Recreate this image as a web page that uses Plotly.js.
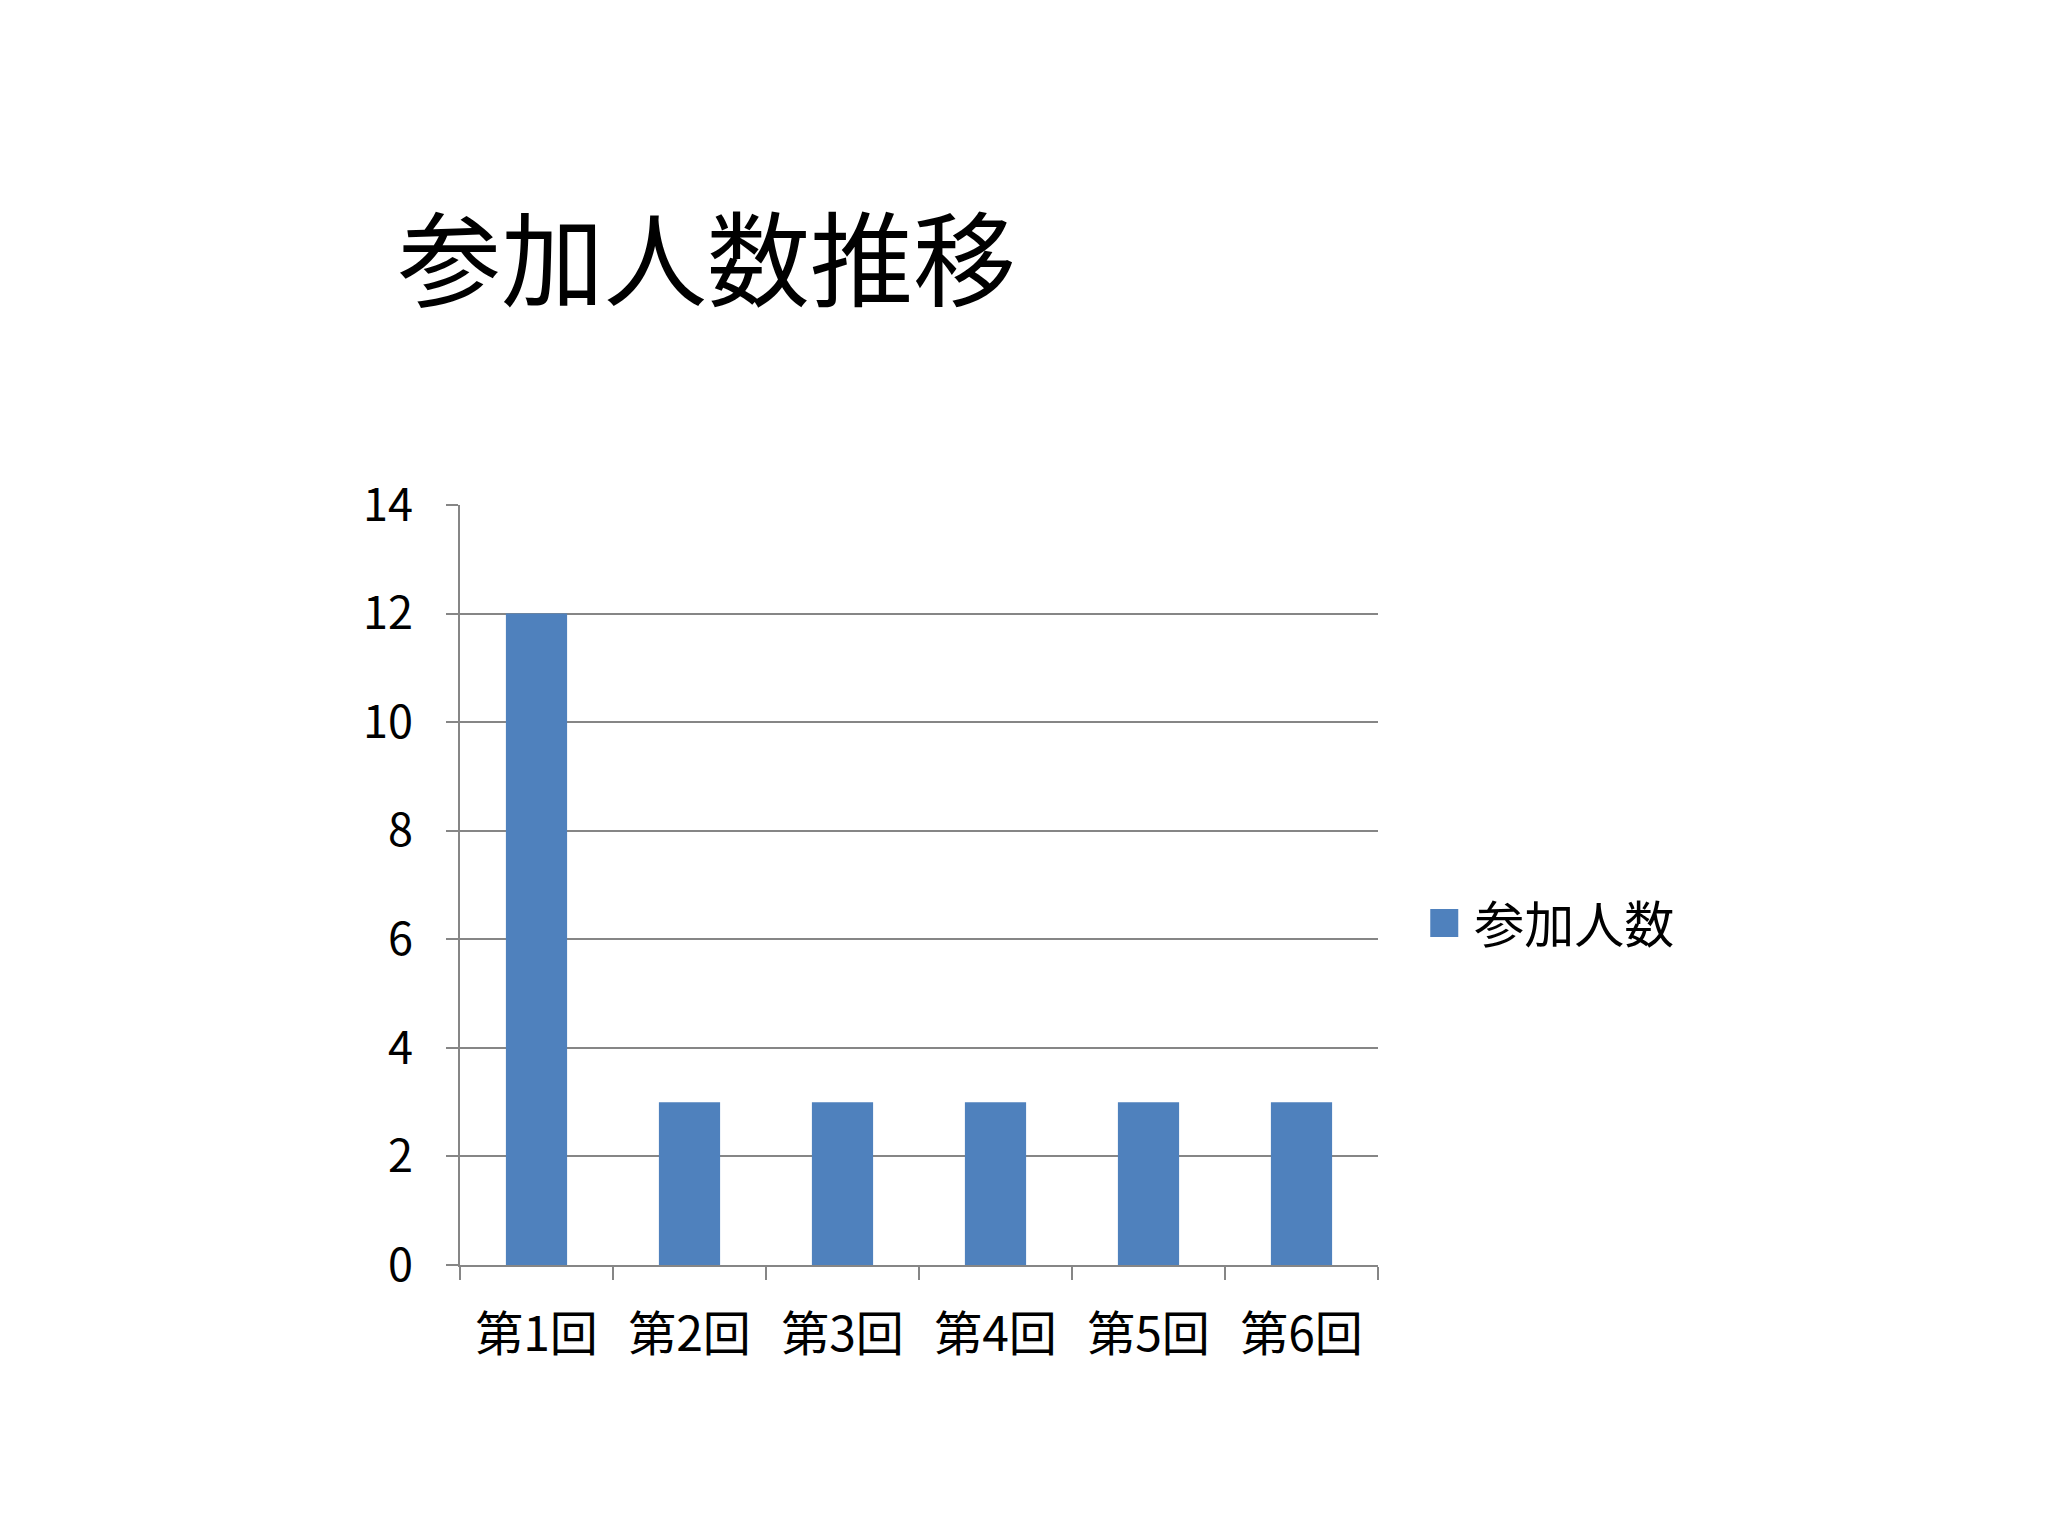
<!DOCTYPE html>
<html lang="ja">
<head>
<meta charset="utf-8">
<script src="https://cdn.plot.ly/plotly-3.0.1.min.js"></script>
<style>
  html, body { margin: 0; padding: 0; background: #fff; }
  #chart { width: 2048px; height: 1536px; }
</style>
</head>
<body>
<div id="chart"></div>
<script>
const TITLE = "参加人数推移";
const SERIES_NAME = "参加人数";
const categories = ["第1回", "第2回", "第3回", "第4回", "第5回", "第6回"];
const participants = [12, 3, 3, 3, 3, 3];
const yTicks = [0, 2, 4, 6, 8, 10, 12, 14];

const FONT = "'Noto Sans CJK JP', 'Noto Sans', sans-serif";
const GRID = "#868686";

// plotly keeps the bar swatch at 12px, the original uses a bigger square
function biggerSwatch(gd) {
  gd.querySelectorAll(".legendpoints path").forEach((p) => {
    p.setAttribute("d", "M14,14H-14V-14H14Z");
  });
}

Plotly.newPlot(
  "chart",
  [
    {
      type: "bar",
      name: SERIES_NAME,
      x: categories,
      y: participants,
      marker: { color: "#4f81bd", line: { width: 0 } },
      hoverinfo: "x+y",
    },
  ],
  {
    width: 2048,
    height: 1536,
    paper_bgcolor: "#fff",
    plot_bgcolor: "#fff",
    font: { family: FONT, color: "#000" },
    margin: { l: 460, r: 670, t: 505, b: 271, pad: 0 },
    bargap: 0.6,
    title: {
      text: TITLE,
      font: { size: 103, family: FONT, color: "#000" },
      xref: "container",
      yref: "container",
      x: 398 / 2048,
      xanchor: "left",
      y: 1 - 263 / 1536,
      yanchor: "middle",
    },
    xaxis: {
      type: "category",
      showgrid: false,
      showline: true,
      linecolor: GRID,
      linewidth: 2,
      ticks: "outside",
      tickson: "boundaries",
      ticklen: 13,
      tickwidth: 2,
      tickcolor: GRID,
      ticklabelstandoff: 26,
      tickfont: { size: 48, family: FONT, color: "#000" },
      fixedrange: true,
    },
    yaxis: {
      range: [0, 14],
      tickvals: yTicks,
      showgrid: true,
      gridcolor: GRID,
      gridwidth: 2,
      zeroline: false,
      showline: true,
      linecolor: GRID,
      linewidth: 2,
      ticks: "outside",
      ticklen: 12,
      tickwidth: 2,
      tickcolor: GRID,
      ticklabelstandoff: 24,
      tickfont: { size: 45, family: FONT, color: "#000" },
      fixedrange: true,
    },
    showlegend: true,
    legend: {
      x: 1.0395,
      xanchor: "left",
      y: 0.45,
      yanchor: "middle",
      itemwidth: 50,
      font: { size: 50, family: FONT, color: "#000" },
      bgcolor: "rgba(0,0,0,0)",
    },
  },
  { displayModeBar: false, staticPlot: true }
).then(biggerSwatch);
</script>
</body>
</html>
